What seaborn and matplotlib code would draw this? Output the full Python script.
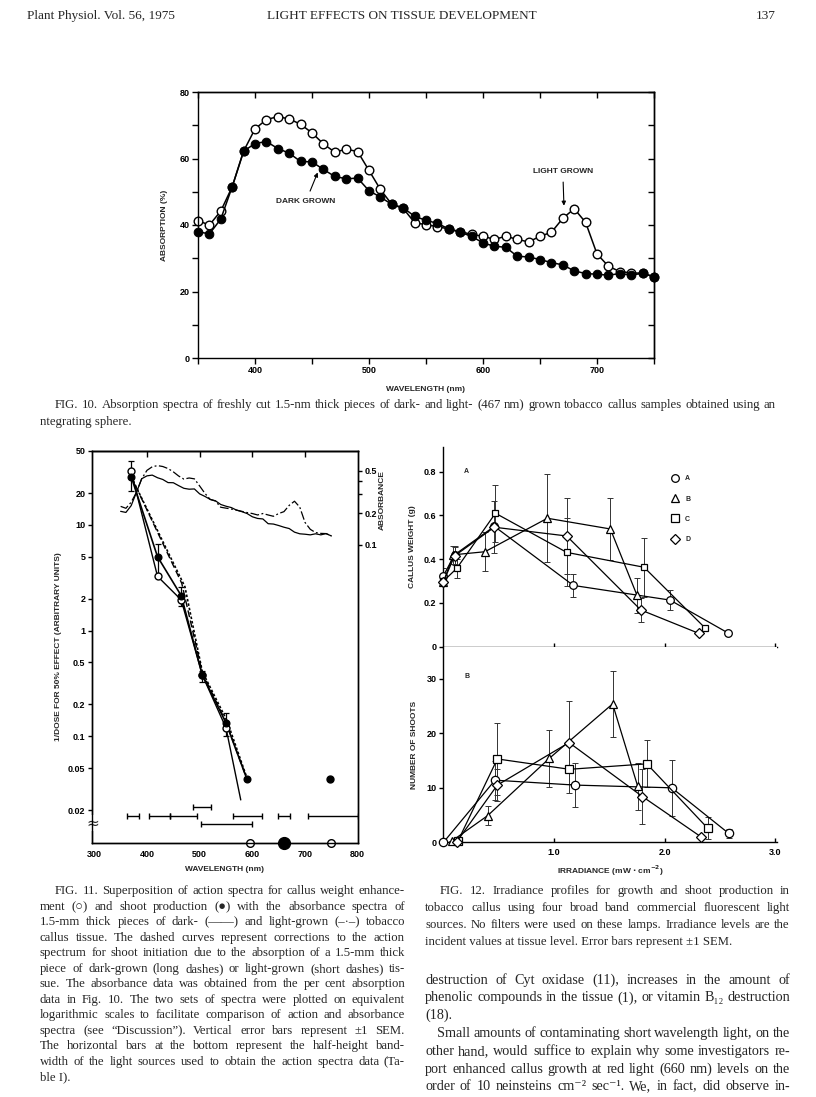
import numpy as np
import matplotlib.pyplot as plt
import seaborn as sns
from matplotlib.lines import Line2D

# ---- Fig. 10: per cent absorption, 350-750 nm ----
wl = list(range(350, 751, 10))
dark_abs = [38.0, 37.3, 41.8, 51.5, 62.2, 64.5, 65.1, 63.0, 61.6, 59.1, 59.0,
            56.7, 54.6, 53.9, 54.1, 50.3, 48.4, 46.2, 45.2, 42.6, 41.4, 40.5,
            38.8, 37.8, 36.6, 34.6, 33.6, 33.3, 30.6, 30.4, 29.6, 28.7, 28.0,
            26.2, 25.4, 25.2, 24.9, 25.4, 24.9, 25.5, 24.4]
light_abs = [41.3, 40.0, 44.2, 51.5, 62.2, 68.9, 71.7, 72.6, 71.9, 70.3, 67.7,
             64.4, 61.9, 62.8, 62.1, 56.4, 50.7, 46.2, 45.0, 40.7, 40.1, 39.5,
             38.8, 38.0, 37.2, 36.6, 35.7, 36.6, 35.7, 34.9, 36.6, 37.8, 42.0,
             44.9, 40.8, 31.3, 27.6, 26.0, 25.6, 25.5, 24.4]

# ---- Fig. 11: action spectra ----
weight_nm = [370, 420, 465, 505, 550]
weight_val = [32.0, 3.26, 1.95, 0.38, 0.12]
weight_line_nm = [370, 420, 465, 505, 550, 578]
weight_line_val = [32.0, 3.26, 1.95, 0.38, 0.12, 0.025]
shoot_nm = [370, 420, 465, 505, 550, 590]
shoot_val = [28.6, 5.0, 2.14, 0.38, 0.134, 0.039]
shoot_lo = [21.0, 3.3, 1.7, 0.324, 0.101, 0.039]
shoot_hi = [40.0, 6.6, 2.57, 0.418, 0.166, 0.039]
shoot_far_nm = [747]
shoot_far_val = [0.039]
corr_dark_nm = [370, 466, 505, 550, 590]
corr_dark_val = [28.6, 2.8, 0.40, 0.136, 0.039]
corr_light_nm = [370, 472, 505, 552, 590]
corr_light_val = [28.6, 2.6, 0.41, 0.14, 0.040]
zero_weight_nm = [595, 750]
zero_shoot_nm = [660]
band_lo = [363, 404, 444, 488, 502, 564, 649, 706]
band_hi = [385, 444, 494, 521, 600, 618, 671, 800]
band_row = [0.0175, 0.0175, 0.0175, 0.0213, 0.0148, 0.0175, 0.0175, 0.0175]

# ---- Fig. 12: irradiance profiles (lamps A-D) ----
lamps = ['A', 'B', 'C', 'D']
lamp_marker = {'A': 'o', 'B': '^', 'C': 's', 'D': 'D'}
wt_x = {'A': [0.0, 0.10, 0.46, 1.175, 2.05, 2.57],
        'B': [0.0, 0.09, 0.375, 0.94, 1.51, 1.75],
        'C': [0.0, 0.12, 0.47, 1.115, 1.815, 2.37],
        'D': [0.0, 0.10, 0.46, 1.115, 1.785, 2.31]}
wt_y = {'A': [0.325, 0.42, 0.55, 0.28, 0.213, 0.064],
        'B': [0.297, 0.42, 0.434, 0.587, 0.538, 0.236],
        'C': [0.30, 0.358, 0.61, 0.431, 0.363, 0.084],
        'D': [0.297, 0.415, 0.546, 0.506, 0.168, 0.061]}
wt_err = {'A': [0.035, 0.04, 0.0, 0.053, 0.047, 0.0],
          'B': [0.02, 0.04, 0.088, 0.20, 0.14, 0.08],
          'C': [0.02, 0.045, 0.13, 0.155, 0.135, 0.0],
          'D': [0.02, 0.04, 0.12, 0.175, 0.055, 0.0]}
sh_x = {'A': [0.0, 0.466, 1.19, 2.065, 2.58],
        'B': [0.08, 0.40, 0.957, 1.53, 1.757],
        'C': [0.13, 0.487, 1.14, 1.84, 2.39],
        'D': [0.12, 0.487, 1.136, 1.80, 2.33]}
sh_y = {'A': [0.0, 11.4, 10.5, 10.0, 1.65],
        'B': [0.3, 4.9, 15.4, 25.4, 10.3],
        'C': [0.2, 15.3, 13.4, 14.4, 2.6],
        'D': [0.1, 10.5, 18.3, 8.4, 1.0]}
sh_err = {'A': [0.0, 3.6, 4.1, 5.1, 0.8],
          'B': [0.0, 1.7, 5.2, 6.0, 4.3],
          'C': [0.0, 6.6, 4.3, 4.3, 2.0],
          'D': [0.0, 3.0, 7.6, 5.0, 0.0]}

sns.set_style('ticks')
plt.rcParams['font.family'] = ['Liberation Sans', 'DejaVu Sans']
plt.rcParams['font.weight'] = 'bold'
plt.rcParams['axes.linewidth'] = 1.0
plt.rcParams['axes.edgecolor'] = 'black'
plt.rcParams['xtick.color'] = 'black'
plt.rcParams['ytick.color'] = 'black'
SERIF = ['Liberation Serif', 'DejaVu Serif']

W, H = 816, 1097
fig = plt.figure(figsize=(W / 100, H / 100), dpi=100)
fig.patch.set_facecolor('white')


def box(l, t, r, b):
    return [l / W, 1 - b / H, (r - l) / W, (b - t) / H]


# ================= Fig. 10 =================
ax = fig.add_axes(box(198, 92, 654, 358))
sns.lineplot(x=wl, y=light_abs, ax=ax, color='k', lw=1.1, marker='o',
             markersize=6.2, markerfacecolor='white', markeredgecolor='k',
             markeredgewidth=1.0, clip_on=False, legend=False)
sns.lineplot(x=wl, y=dark_abs, ax=ax, color='k', lw=1.1, marker='o',
             markersize=6.2, markerfacecolor='k', markeredgecolor='k',
             clip_on=False, legend=False)
ax.set_xlim(350, 750)
ax.set_ylim(0, 80)
xt = list(range(350, 751, 50))
ax.set_xticks(xt, labels=[str(v) if v % 100 == 0 and v < 750 else '' for v in xt])
yt = list(range(0, 81, 10))
ax.set_yticks(yt, labels=[str(v) if v % 20 == 0 else '' for v in yt])
ax.tick_params(length=4, width=1, labelsize=6.5, pad=2)
for s in ax.spines.values():
    s.set_visible(True)
top = ax.secondary_xaxis('top')
top.set_xticks(xt, labels=[''] * len(xt))
top.tick_params(direction='in', length=4, width=1)
right = ax.secondary_yaxis('right')
right.set_yticks(yt, labels=[''] * len(yt))
right.tick_params(direction='in', length=4, width=1)
ax.set_xlabel('WAVELENGTH (nm)', fontsize=6, fontweight='bold', labelpad=8)
ax.set_ylabel('ABSORPTION (%)', fontsize=6, fontweight='bold', labelpad=8)
ax.annotate('DARK GROWN', xy=(455, 55.8), xytext=(444.5, 47), fontsize=6,
            fontweight='bold', ha='center', va='center',
            arrowprops=dict(arrowstyle='-|>', color='k', lw=0.8,
                            mutation_scale=6, shrinkA=3, shrinkB=0))
ax.annotate('LIGHT GROWN', xy=(671, 45.8), xytext=(670, 56.2), fontsize=6,
            fontweight='bold', ha='center', va='center',
            arrowprops=dict(arrowstyle='-|>', color='k', lw=0.8,
                            mutation_scale=6, shrinkA=3, shrinkB=0))

# ================= Fig. 11 =================
ax = fig.add_axes(box(92.3, 451, 357.7, 842.7))
ax.set_yscale('log')
ax.set_xlim(296.2, 800)
ax.set_ylim(0.00984, 50)
axr = ax.twinx()
axr.set_yscale('log')
axr.set_ylim(0.000152, 0.773)

# absorbance derived from the per cent absorption of Fig. 10
dark_od = -np.log10(1 - np.array(dark_abs) / 100)
light_od = -np.log10(1 - np.array(light_abs) / 100)
sns.lineplot(x=wl, y=dark_od, ax=axr, color='k', lw=0.9, legend=False)
sns.lineplot(x=wl, y=light_od, ax=axr, color='k', lw=0.9, legend=False,
             dashes=False, linestyle=(0, (7, 2, 1.5, 2)))

sns.lineplot(x=corr_dark_nm, y=corr_dark_val, ax=ax, color='k', lw=1.0,
             linestyle=(0, (5, 2.5)), legend=False)
sns.lineplot(x=corr_light_nm, y=corr_light_val, ax=ax, color='k', lw=1.2,
             linestyle=(0, (1.5, 1.2)), legend=False)
sns.lineplot(x=weight_line_nm, y=weight_line_val, ax=ax, color='k', lw=1.0,
             legend=False)
sns.lineplot(x=shoot_nm, y=shoot_val, ax=ax, color='k', lw=1.2, legend=False)
sv = np.array(shoot_val)
ax.errorbar(shoot_nm, shoot_val,
            yerr=[sv - np.array(shoot_lo), np.array(shoot_hi) - sv],
            fmt='none', ecolor='k', elinewidth=0.9, capsize=2.5, capthick=0.9)
ax.plot(weight_nm, weight_val, ls='none', marker='o', ms=5, mfc='white',
        mec='k', mew=1.0, zorder=5)
ax.plot(shoot_nm, shoot_val, ls='none', marker='o', ms=4.8, mfc='k',
        mec='k', zorder=6)
ax.plot(shoot_far_nm, shoot_far_val, ls='none', marker='o', ms=5, mfc='k',
        mec='k', zorder=6)
# light-source half-height bandwidths
bl, bh = np.array(band_lo), np.array(band_hi)
ax.errorbar((bl + bh) / 2, band_row, xerr=(bh - bl) / 2, fmt='none',
            ecolor='k', elinewidth=1.0, capsize=2.5, capthick=1.0)
# zero responses, drawn on the wavelength axis
ybot = ax.get_ylim()[0]
ax.plot(zero_weight_nm, [ybot] * len(zero_weight_nm), ls='none', marker='o',
        ms=5.5, mfc='white', mec='k', mew=1.0, clip_on=False, zorder=7)
ax.plot(zero_shoot_nm, [ybot] * len(zero_shoot_nm), ls='none', marker='o',
        ms=8.5, mfc='k', mec='k', clip_on=False, zorder=7)

left_ticks = [0.02, 0.05, 0.1, 0.2, 0.5, 1, 2, 5, 10, 20, 50]
ax.set_yticks(left_ticks, labels=['0.02', '0.05', '0.1', '0.2', '0.5', '1',
                                  '2', '5', '10', '20', '50'])
ax.yaxis.set_minor_locator(plt.NullLocator())
ax.set_xticks(list(range(300, 801, 100)))
ax.tick_params(length=3, width=1, labelsize=6.5, pad=2)
ax.tick_params(axis='x', length=0, pad=5)
axr.set_yticks([0.1, 0.2, 0.3, 0.4, 0.5], labels=['0.1', '0.2', '', '', '0.5'])
axr.yaxis.set_minor_locator(plt.NullLocator())
axr.tick_params(length=3, width=1, labelsize=6.5, pad=2)
t11 = ax.secondary_xaxis('top')
t11.set_xticks([400, 500, 600, 700], labels=[''] * 4)
t11.tick_params(direction='in', length=4, width=1)
for a in (ax, axr):
    for s in a.spines.values():
        s.set_visible(True)
ax.text(0, 0.05, '\u2248', transform=ax.transAxes, ha='center', va='center',
        fontsize=11, fontweight='normal', zorder=10, family=['DejaVu Sans'],
        bbox=dict(fc='white', ec='none', pad=0.2))
ax.set_xlabel('WAVELENGTH (nm)', fontsize=6, fontweight='bold', labelpad=5)
ax.set_ylabel('1/DOSE FOR 50% EFFECT (ARBITRARY UNITS)', fontsize=6,
              fontweight='bold', labelpad=4)
axr.set_ylabel('ABSORBANCE', fontsize=6, fontweight='bold')
axr.yaxis.set_label_coords(1.08, 0.875)

# ================= Fig. 12 =================
axA = fig.add_axes(box(443.5, 446.7, 776.7, 646.7))
axB = fig.add_axes(box(443.5, 646.7, 776.7, 842.3))
for lamp in lamps:
    mk = lamp_marker[lamp]
    ms = 5.5 if mk in 'o^' else 4.8
    sns.lineplot(x=wt_x[lamp], y=wt_y[lamp], ax=axA, color='k', lw=0.9,
                 marker=mk, markersize=ms, markerfacecolor='white',
                 markeredgecolor='k', markeredgewidth=0.9, legend=False,
                 clip_on=False, zorder=4)
    axA.errorbar(wt_x[lamp], wt_y[lamp], yerr=wt_err[lamp], fmt='none',
                 ecolor='#333333', elinewidth=0.7, capsize=2, capthick=0.7)
    sns.lineplot(x=sh_x[lamp], y=sh_y[lamp], ax=axB, color='k', lw=0.9,
                 marker=mk, markersize=ms + 0.5, markerfacecolor='white',
                 markeredgecolor='k', markeredgewidth=0.9, legend=False,
                 clip_on=False, zorder=4)
    axB.errorbar(sh_x[lamp], sh_y[lamp], yerr=sh_err[lamp], fmt='none',
                 ecolor='#333333', elinewidth=0.7, capsize=2, capthick=0.7)

for a in (axA, axB):
    a.set_xlim(0, 3.015)
    sns.despine(ax=a)
    a.tick_params(axis='y', length=3, width=1, labelsize=6.5, pad=2)
    a.tick_params(axis='x', direction='in', length=3, width=1, labelsize=6.5,
                  pad=4)
    a.set_xlabel('')
axA.set_ylim(0, 0.914)
axA.set_yticks([0, 0.2, 0.4, 0.6, 0.8], labels=['0', '0.2', '0.4', '0.6', '0.8'])
axA.set_xticks([1, 2, 3], labels=['', '', ''])
axB.set_ylim(0, 35.9)
axB.set_yticks([0, 10, 20, 30], labels=['0', '10', '20', '30'])
axB.set_xticks([1, 2, 3], labels=['1.0', '2.0', '3.0'])
axA.set_ylabel('CALLUS WEIGHT (g)', fontsize=6, fontweight='bold', labelpad=6)
axB.set_ylabel('NUMBER OF SHOOTS', fontsize=6, fontweight='bold', labelpad=6)
axB.set_xlabel('IRRADIANCE (mW $\\cdot$ cm$^{-2}$)', fontsize=6,
               fontweight='bold', labelpad=5)
axA.text(0.21, 0.8, 'A', fontsize=5, fontweight='bold', ha='center', va='center')
axB.text(0.21, 30.4, 'B', fontsize=5, fontweight='bold', ha='center', va='center')
handles = [Line2D([], [], ls='none', marker=lamp_marker[k], ms=5.5,
                  mfc='white', mec='k', mew=0.9) for k in lamps]
axA.legend(handles, lamps, loc='upper left', bbox_to_anchor=(0.675, 0.87),
           frameon=False, fontsize=5, labelspacing=1.9, handletextpad=1.0,
           handlelength=1.0, borderaxespad=0)

# ================= text =================
renderer = fig.canvas.get_renderer()


def put(x, yc, s, size, ha='left'):
    # yc is the visual middle of the line in pixels from the top
    base = yc + 0.26 * size * 100 / 72
    return fig.text(x / W, 1 - base / H, s, fontsize=size, family=SERIF,
                    fontweight='normal', va='baseline', ha=ha)


def paragraph(lines, left, right, top, step, size, indent=None, ragged=()):
    indent = indent or {}
    for i, line in enumerate(lines):
        yc = top + i * step
        x0 = left + indent.get(i, 0)
        if i in ragged:
            put(x0, yc, line, size)
            continue
        words = line.split(' ')
        ts = [put(0, yc, w, size) for w in words]
        widths = [t.get_window_extent(renderer).width for t in ts]
        gap = (right - x0 - sum(widths)) / max(len(words) - 1, 1)
        x = x0
        for t, w in zip(ts, widths):
            t.set_x(x / W)
            x += w + gap


put(27, 16, 'Plant Physiol. Vol. 56, 1975', 9.5)
put(402, 16, 'LIGHT EFFECTS ON TISSUE DEVELOPMENT', 9.5, ha='center')
put(776, 16, '137', 9.5, ha='right')

paragraph(['FIG. 10. Absorption spectra of freshly cut 1.5-nm thick pieces of '
           'dark- and light- (467 nm) grown tobacco callus samples obtained using an',
           'ntegrating sphere.'],
          40, 776, 405, 17, 9.2, indent={0: 15}, ragged=(1,))

paragraph(['FIG. 11. Superposition of action spectra for callus weight enhance-',
           'ment (\u25cb) and shoot production (\u25cf) with the absorbance spectra of',
           '1.5-mm thick pieces of dark- (\u2014\u2014) and light-grown (\u2013\u00b7\u2013) tobacco',
           'callus tissue. The dashed curves represent corrections to the action',
           'spectrum for shoot initiation due to the absorption of a 1.5-mm thick',
           'piece of dark-grown (long dashes) or light-grown (short dashes) tis-',
           'sue. The absorbance data was obtained from the per cent absorption',
           'data in Fig. 10. The two sets of spectra were plotted on equivalent',
           'logarithmic scales to facilitate comparison of action and absorbance',
           'spectra (see \u201cDiscussion\u201d). Vertical error bars represent \u00b11 SEM.',
           'The horizontal bars at the bottom represent the half-height band-',
           'width of the light sources used to obtain the action spectra data (Ta-',
           'ble I).'],
          40, 405, 891, 15.5, 9.2, indent={0: 15}, ragged=(12,))

paragraph(['FIG. 12. Irradiance profiles for growth and shoot production in',
           'tobacco callus using four broad band commercial fluorescent light',
           'sources. No filters were used on these lamps. Irradiance levels are the',
           'incident values at tissue level. Error bars represent \u00b11 SEM.'],
          425, 790, 891, 16.8, 9.2, indent={0: 15}, ragged=(3,))

paragraph(['destruction of Cyt oxidase (11), increases in the amount of',
           'phenolic compounds in the tissue (1), or vitamin B\u2081\u2082 destruction',
           '(18).',
           'Small amounts of contaminating short wavelength light, on the',
           'other hand, would suffice to explain why some investigators re-',
           'port enhanced callus growth at red light (660 nm) levels on the',
           'order of 10 neinsteins cm\u207b\u00b2 sec\u207b\u00b9. We, in fact, did observe in-'],
          425, 790, 980, 17.8, 10.2, indent={3: 12}, ragged=(2,))

fig.savefig('out.png', dpi=100, facecolor='white')
